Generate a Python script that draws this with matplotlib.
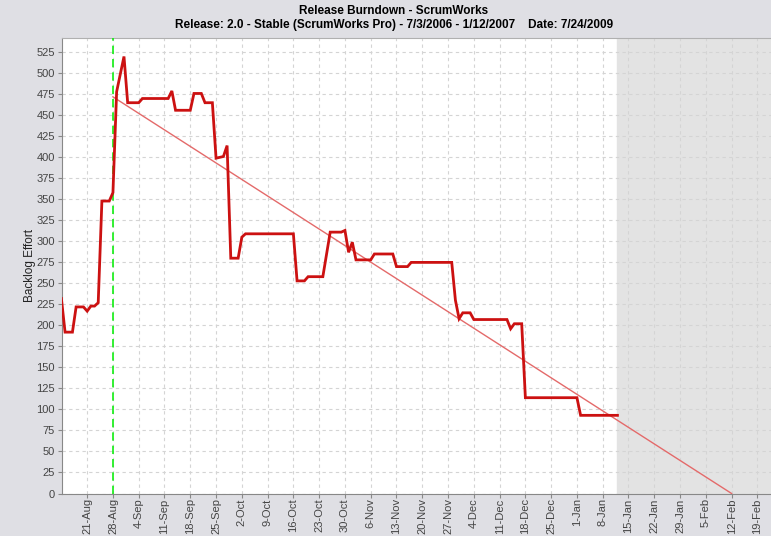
import datetime as dt
import matplotlib
matplotlib.use('Agg')
import matplotlib.pyplot as plt
import matplotlib.dates as mdates
from matplotlib.ticker import FuncFormatter, MultipleLocator

plt.rcParams['font.family'] = ['Liberation Sans', 'DejaVu Sans']

# burndown data (backlog effort per day)
dates = ['2006-08-14', '2006-08-15', '2006-08-17', '2006-08-18', '2006-08-20', '2006-08-21',
         '2006-08-22', '2006-08-23', '2006-08-24', '2006-08-25', '2006-08-27', '2006-08-28',
         '2006-08-29', '2006-08-31', '2006-09-01', '2006-09-04', '2006-09-05', '2006-09-12',
         '2006-09-13', '2006-09-14', '2006-09-18', '2006-09-19', '2006-09-21', '2006-09-22',
         '2006-09-24', '2006-09-25', '2006-09-27', '2006-09-28', '2006-09-29', '2006-10-01',
         '2006-10-02', '2006-10-03', '2006-10-16', '2006-10-17', '2006-10-19', '2006-10-20',
         '2006-10-24', '2006-10-26', '2006-10-29', '2006-10-30', '2006-10-31', '2006-11-01',
         '2006-11-02', '2006-11-06', '2006-11-07', '2006-11-12', '2006-11-13', '2006-11-16',
         '2006-11-17', '2006-11-28', '2006-11-29', '2006-11-30', '2006-12-01', '2006-12-03',
         '2006-12-04', '2006-12-13', '2006-12-14', '2006-12-15', '2006-12-17', '2006-12-18',
         '2007-01-01', '2007-01-02', '2007-01-12']
effort = [232, 192, 192, 222, 222, 217, 223, 223, 227, 348,
          348, 358, 478, 520, 465, 465, 470, 470, 479, 456,
          456, 476, 476, 465, 465, 399, 401, 414, 280, 280,
          305, 309, 309, 253, 253, 258, 258, 311, 311, 313,
          287, 299, 278, 278, 285, 285, 270, 270, 275, 275,
          230, 208, 215, 215, 207, 207, 196, 202, 202, 114,
          114, 93, 93]

trend_dates = ['2006-08-28', '2007-02-12']
trend_effort = [472, 0]

sprint_start = '2006-08-28'
release_end = '2007-01-12'

title1 = 'Release Burndown - ScrumWorks'
title2 = 'Release: 2.0 - Stable (ScrumWorks Pro) - 7/3/2006 - 1/12/2007    Date: 7/24/2009'

to_dt = lambda s: dt.datetime.strptime(s, '%Y-%m-%d')
x = [to_dt(d) for d in dates]
xt = [to_dt(d) for d in trend_dates]

fig = plt.figure(figsize=(7.71, 5.36), dpi=100, facecolor='#dfdfe4')
ax = fig.add_axes([62/771, 1-493.5/536, 1-62/771, (493.5-38)/536])
ax.set_facecolor('white')

x0 = dt.datetime(2006, 8, 14, 4)
x1 = to_dt(sprint_start) + dt.timedelta(days=178.7)
ax.axvspan(to_dt(release_end), x1, color='#e3e3e3', zorder=0)

ax.plot(xt, trend_effort, color='#e46a6a', lw=1.0, zorder=3)
ax.axvline(to_dt(sprint_start), color='#11ee11', lw=1.2, dashes=(5, 3), zorder=3)
ax.plot(x, effort, color='#cc1111', lw=2.0, solid_joinstyle='miter', zorder=4)

ax.set_xlim(x0, x1)
ax.set_ylim(0, 542)

ax.xaxis.set_major_locator(mdates.WeekdayLocator(byweekday=mdates.MO))
ax.xaxis.set_major_formatter(FuncFormatter(
    lambda v, p: '%d-%s' % (mdates.num2date(v).day, mdates.num2date(v).strftime('%b'))))
ax.yaxis.set_major_locator(MultipleLocator(25))
plt.setp(ax.get_xticklabels(), rotation=90)

ax.grid(True, color='#d4d4d4', lw=0.8, ls=(0, (3, 3)))
ax.set_axisbelow(True)
ax.tick_params(labelsize=8, colors='#444444', length=3, width=0.8)
ax.tick_params(axis='both', color='#888888')
ax.tick_params(axis='x', pad=0.5)
ax.tick_params(axis='y', pad=2)
for s in ['right']:
    ax.spines[s].set_visible(False)
for s in ['left', 'bottom']:
    ax.spines[s].set_color('#888888')
ax.spines['top'].set_color('#b0b0b0')

ax.set_ylabel('Backlog Effort', fontsize=8.5, color='#222222', labelpad=0)

fig.text(394/771, 1-11/536, title1, ha='center', va='center', fontsize=8.5, fontweight='bold')
fig.text(394/771, 1-25/536, title2, ha='center', va='center', fontsize=8.5, fontweight='bold')

fig.savefig('out.png', dpi=100, facecolor=fig.get_facecolor())
